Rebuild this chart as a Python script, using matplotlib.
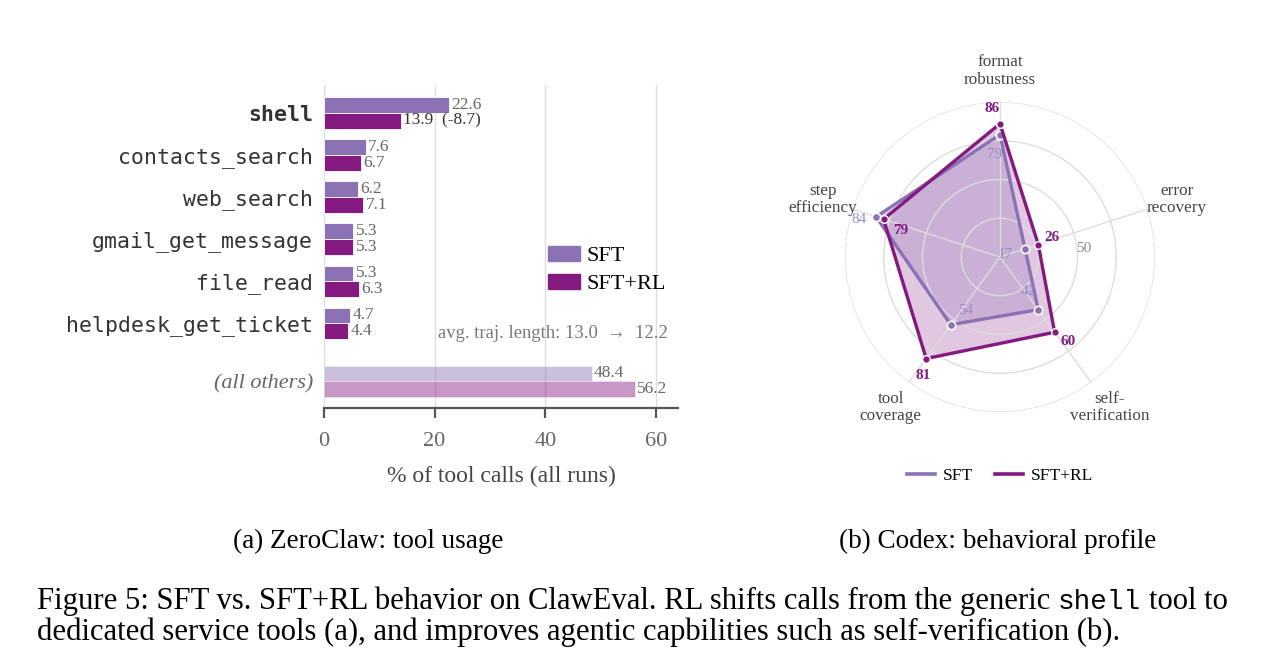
import numpy as np
import matplotlib
matplotlib.use("Agg")
import matplotlib.pyplot as plt
from matplotlib.patches import Patch
from matplotlib.lines import Line2D

plt.rcParams['font.family'] = ['Liberation Serif', 'DejaVu Serif']

# (a) tool usage, % of tool calls
tools = ['shell', 'contacts_search', 'web_search', 'gmail_get_message',
         'file_read', 'helpdesk_get_ticket', '(all others)']
sft_share = [22.6, 7.6, 6.2, 5.3, 5.3, 4.7, 48.4]
rl_share = [13.9, 6.7, 7.1, 5.3, 6.3, 4.4, 56.2]
avg_len_sft = 13.0
avg_len_rl = 12.2

# (b) behavioral profile
dims = ['format\nrobustness', 'error\nrecovery', 'self-\nverification',
        'tool\ncoverage', 'step\nefficiency']
sft_prof = [79, 17, 42, 54, 84]
rl_prof = [86, 26, 60, 81, 79]

SFT_C = '#8b72b5'
RL_C = '#841a80'
SFT_TXT = '#9d8bc6'

fig = plt.figure(figsize=(12.61, 6.72), dpi=100)

# ---------------- left: bars ----------------
ax = fig.add_axes([0.2569, 0.3929, 0.2808, 0.4807])
pos = np.array([0, 1, 2, 3, 4, 5, 6.38])
h = 0.37
n = len(tools)
for i in range(n):
    a, b, p = sft_share[i], rl_share[i], pos[i]
    alpha = 0.45 if i == n - 1 else 1.0
    ax.barh(p - h / 2, a, height=h, color=SFT_C, alpha=alpha,
            edgecolor='white', linewidth=0.6, zorder=2)
    ax.barh(p + h / 2, b, height=h, color=RL_C, alpha=alpha,
            edgecolor='white', linewidth=0.6, zorder=2)
    ax.text(a + 0.4, p - h / 2, f'{a:.1f}', va='center', ha='left',
            color='#666666', fontsize=12.5)
    if i == 0:
        ax.text(b + 0.4, p + h / 2, f'{b:.1f}  ({b - a:+.1f})', va='center',
                ha='left', color='#333333', fontsize=12.5)
    else:
        ax.text(b + 0.4, p + h / 2, f'{b:.1f}', va='center', ha='left',
                color='#666666', fontsize=12.5)

ax.set_ylim(7.02, -0.667)
ax.set_xlim(0, 64)
ax.set_xticks([0, 20, 40, 60])
ax.set_yticks(pos, tools)
ax.tick_params(axis='y', length=0, pad=8)
ax.tick_params(axis='x', direction='out', length=7, width=1.6, color='#555555',
               labelsize=16, labelcolor='#666666', pad=10)
for k, lab in enumerate(ax.get_yticklabels()):
    if k == n - 1:
        lab.set_fontstyle('italic')
        lab.set_color('#666666')
        lab.set_fontsize(16)
    else:
        lab.set_family('DejaVu Sans Mono')
        lab.set_fontsize(15.5)
        lab.set_color('#333333')
        if k == 0:
            lab.set_fontweight('bold')
ax.grid(axis='x', color='#dddddd', lw=1)
ax.set_axisbelow(True)
for s in ['left', 'top', 'right']:
    ax.spines[s].set_visible(False)
ax.spines['bottom'].set_color('#555555')
ax.spines['bottom'].set_linewidth(1.6)
ax.set_xlabel('% of tool calls (all runs)', fontsize=17, color='#444444', labelpad=11)

ax.legend(handles=[Patch(color=SFT_C), Patch(color=RL_C)], labels=['SFT', 'SFT+RL'],
          loc='center left', bbox_to_anchor=(0.633, 0.427), frameon=False,
          fontsize=16, handlelength=1.45, handleheight=0.65, handletextpad=0.3,
          labelspacing=0.35, borderpad=0, borderaxespad=0)
ax.text(0.972, 0.232, f'avg. traj. length: {avg_len_sft:.1f}  \u2192  {avg_len_rl:.1f}',
        transform=ax.transAxes, ha='right', va='center', fontsize=13.4, color='#777777',
        family=['Liberation Serif', 'DejaVu Serif'])

# ---------------- right: radar ----------------
ax2 = fig.add_axes([0.6701, 0.3869, 0.2458, 0.4613], projection='polar')
theta = np.deg2rad(90 - 72 * np.arange(len(dims)))
tc = np.append(theta, theta[0])
sc = np.append(sft_prof, sft_prof[0])
rc = np.append(rl_prof, rl_prof[0])

ax2.fill(tc, rc, color=RL_C, alpha=0.24, lw=0, zorder=1)
ax2.fill(tc, sc, color=SFT_C, alpha=0.28, lw=0, zorder=1)
ax2.plot(tc, sc, color=SFT_C, lw=2.4, marker='o', ms=6, mfc=SFT_C, mec='white',
         mew=1.2, zorder=3)
ax2.plot(tc, rc, color=RL_C, lw=2.4, marker='o', ms=5.5, mfc=RL_C, mec='white',
         mew=1.0, zorder=4)

ax2.set_ylim(0, 100)
ax2.set_rgrids([25, 50, 75, 100], labels=[])
ax2.set_thetagrids(np.degrees(theta) % 360, labels=[])
ax2.grid(color='#dddddd', lw=1)
ax2.spines['polar'].set_visible(False)

nudge = np.deg2rad(3)
for i in range(len(dims)):
    ax2.text(theta[i], 120, dims[i], ha='center', va='center', fontsize=12.3,
             color='#444444', linespacing=1.1)
    s, r = sft_prof[i], rl_prof[i]
    if r >= s:
        r_rl, r_sft = r + 10, s - 13
    else:
        r_rl, r_sft = r - 13, s + 10
    ax2.text(theta[i] + nudge, r_rl, str(r), ha='center', va='center', fontsize=11,
             fontweight='bold', color=RL_C, zorder=5)
    ax2.text(theta[i] + nudge, r_sft, str(s), ha='center', va='center', fontsize=11,
             color=SFT_TXT, zorder=5)
ax2.text(np.deg2rad(6), 54, '50', ha='center', va='center', fontsize=11, color='#888888')

fig.legend(handles=[Line2D([], [], color=SFT_C, lw=2.6), Line2D([], [], color=RL_C, lw=2.6)],
           labels=['SFT', 'SFT+RL'], loc='center', bbox_to_anchor=(0.793, 0.292), ncol=2,
           frameon=False, fontsize=12.5, handlelength=1.6, columnspacing=1.3,
           handletextpad=0.45)

# ---------------- captions ----------------
fig.text(368 / 1261, 1 - 541 / 672, '(a) ZeroClaw: tool usage', ha='center', va='center',
         fontsize=19.5)
fig.text(998 / 1261, 1 - 541 / 672, '(b) Codex: behavioral profile', ha='center',
         va='center', fontsize=19.5)

cap_x = 37 / 1261
y1 = 1 - 609 / 672
y2 = 1 - 640 / 672
fs = 22.1
fig.canvas.draw()
r = fig.canvas.get_renderer()
t1 = fig.text(cap_x, y1, 'Figure 5: SFT vs. SFT+RL behavior on ClawEval. RL shifts calls from the generic',
              fontsize=fs, va='baseline')
bb = t1.get_window_extent(renderer=r)
sp = fs * 100 / 72 * 0.25
t2 = fig.text((bb.x1 + sp) / fig.bbox.width, y1, 'shell', family=['Liberation Mono', 'DejaVu Sans Mono'],
              fontsize=fs * 0.9, va='baseline')
bb2 = t2.get_window_extent(renderer=r)
fig.text((bb2.x1 + sp) / fig.bbox.width, y1, 'tool to', fontsize=fs, va='baseline')
fig.text(cap_x, y2, 'dedicated service tools (a), and improves agentic capbilities such as self-verification (b).',
         fontsize=fs, va='baseline')

fig.savefig('out.png', dpi=100)
